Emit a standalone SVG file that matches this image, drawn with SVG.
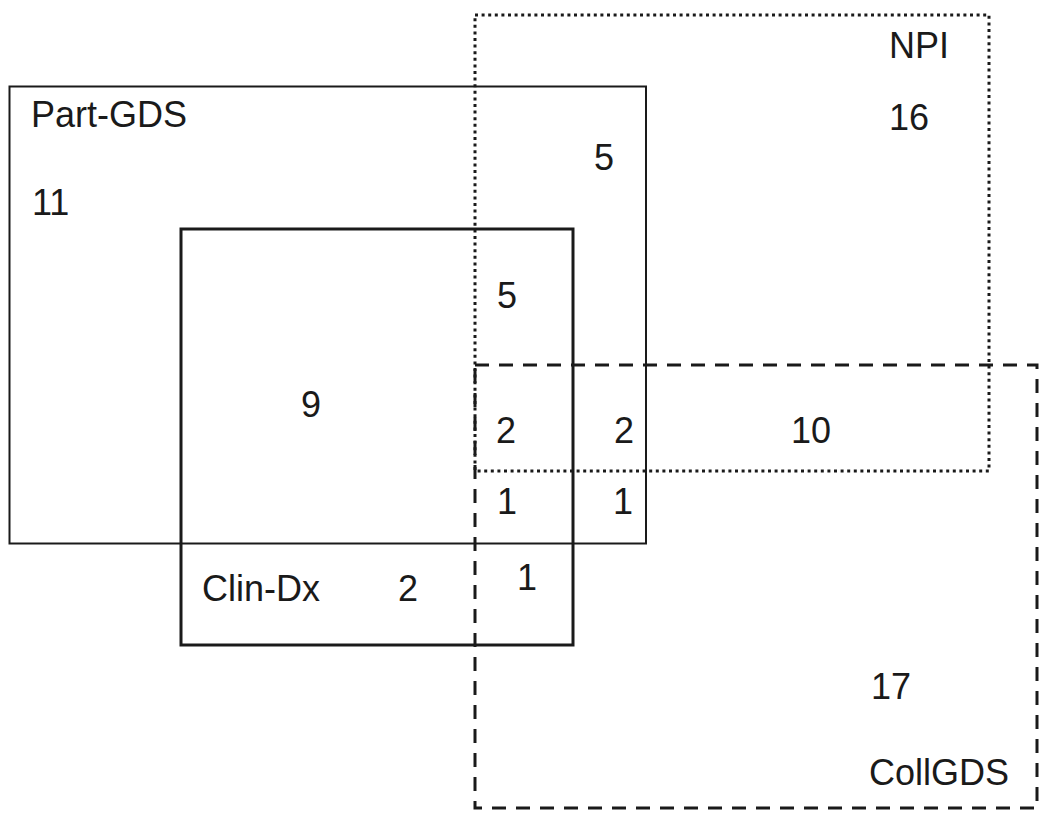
<svg xmlns="http://www.w3.org/2000/svg" width="1050" height="821" viewBox="0 0 1050 821">
<style>
text{font-family:"Liberation Sans",Arial,sans-serif;font-size:36px;fill:#1a1a1a}
.c{text-anchor:middle}
rect{fill:none;stroke:#1a1a1a}
</style>
<rect width="1050" height="821" fill="#fff" style="fill:#fff;stroke:none"/>
<g id="part-gds">
<rect x="9.5" y="86.5" width="636.5" height="457" style="stroke-width:2"/>
<text x="31" y="127">Part-GDS</text>
<text x="32" y="215">11</text>
</g>
<g id="clin-dx">
<rect x="181" y="229" width="392" height="416" style="stroke-width:3"/>
<text x="202" y="601">Clin-Dx</text>
<text class="c" x="408" y="601">2</text>
</g>
<g id="npi">
<rect x="475" y="15" width="514" height="456" style="stroke-width:3;stroke-dasharray:3 3.6"/>
<text x="889" y="58">NPI</text>
<text class="c" x="909" y="130">16</text>
</g>
<g id="collgds">
<rect x="475" y="365" width="562" height="443" style="stroke-width:3;stroke-dasharray:14 10"/>
<text x="869" y="785">CollGDS</text>
<text class="c" x="891" y="699">17</text>
</g>
<g id="counts">
<text class="c" x="604" y="170">5</text>
<text class="c" x="507" y="308">5</text>
<text class="c" x="311" y="417">9</text>
<text class="c" x="506" y="443">2</text>
<text class="c" x="624" y="443">2</text>
<text class="c" x="811" y="443">10</text>
<text class="c" x="507" y="514">1</text>
<text class="c" x="623" y="514">1</text>
<text class="c" x="527" y="590">1</text>
</g>
<g id="connectors"/>
</svg>
